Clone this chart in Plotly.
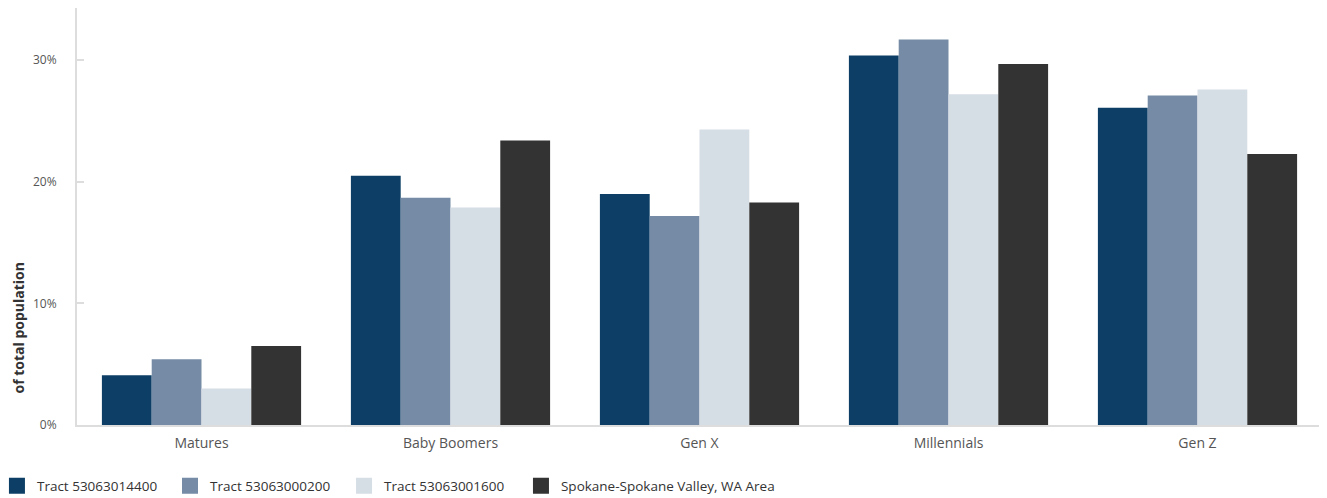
import plotly.graph_objects as go

generations = ["Matures", "Baby Boomers", "Gen X", "Millennials", "Gen Z"]

tract_14400 = [4.1, 20.5, 19.0, 30.4, 26.1]
tract_00200 = [5.4, 18.7, 17.2, 31.7, 27.1]
tract_01600 = [3.0, 17.9, 24.3, 27.2, 27.6]
spokane_area = [6.5, 23.4, 18.3, 29.7, 22.3]

y_ticks = [0, 10, 20, 30]
y_tick_labels = ["0%", "10%", "20%", "30%"]

series = [
    ("Tract 53063014400", tract_14400, "#0d3f66"),
    ("Tract 53063000200", tract_00200, "#768ba6"),
    ("Tract 53063001600", tract_01600, "#d5dde5"),
    ("Spokane-Spokane Valley, WA Area", spokane_area, "#333333"),
]

# one legend per series so the entries sit where the reference puts them
legend_ids = ["legend", "legend2", "legend3", "legend4"]
legend_x = [-0.0643, 0.0747, 0.2145, 0.3566]

fig = go.Figure()
for (name, vals, color), lid in zip(series, legend_ids):
    fig.add_trace(go.Bar(
        x=generations,
        y=vals,
        name=name,
        legendgroup=name,
        showlegend=False,
        marker=dict(color=color, line=dict(width=0)),
        hovertemplate="%{y:.1f}%<extra>" + name + "</extra>",
    ))
    # legend-only entry with a bigger square swatch
    fig.add_trace(go.Scatter(
        x=[None], y=[None],
        mode="markers",
        name=name,
        legendgroup=name,
        legend=lid,
        marker=dict(symbol="square", size=16, color=color, line=dict(width=0)),
        hoverinfo="skip",
    ))

legend_style = dict(
    orientation="h",
    xanchor="left",
    y=-0.146,
    yanchor="middle",
    font=dict(family="Open Sans, sans-serif", size=13.5, color="#333333"),
    itemwidth=30,
    bgcolor="rgba(0,0,0,0)",
)

# page body has an 8px margin, so the figure is drawn 8px in from the corner
fig.update_layout(
    width=1319,
    height=490,
    barmode="group",
    bargap=0.2,
    bargroupgap=0,
    paper_bgcolor="white",
    plot_bgcolor="white",
    margin=dict(l=69, r=5, t=0, b=73, autoexpand=False),
    font=dict(family="Open Sans, sans-serif", size=12, color="#555555"),
    showlegend=True,
)
for lid, lx in zip(legend_ids, legend_x):
    fig.update_layout({lid: dict(legend_style, x=lx)})

fig.update_xaxes(
    automargin=False,
    showline=True,
    linecolor="#dddddd",
    linewidth=2,
    showgrid=False,
    ticks="",
    ticklabelstandoff=4,
    tickfont=dict(size=14, color="#555555"),
)
fig.update_yaxes(
    automargin=False,
    range=[0, 34.3],
    tickmode="array",
    tickvals=y_ticks,
    ticktext=y_tick_labels,
    showline=True,
    linecolor="#dddddd",
    linewidth=2,
    showgrid=False,
    zeroline=False,
    ticks="inside",
    ticklen=7,
    tickcolor="#dddddd",
    tickwidth=2,
    ticklabelstandoff=16,
    tickfont=dict(size=12, color="#555555"),
)

fig.add_annotation(
    text="<b>of total population</b>",
    xref="paper", yref="paper",
    x=-0.0474, y=0.072,
    xanchor="center", yanchor="bottom",
    textangle=-90,
    showarrow=False,
    font=dict(family="Open Sans, sans-serif", size=14, color="#333333"),
)

fig.write_html("out.html")
